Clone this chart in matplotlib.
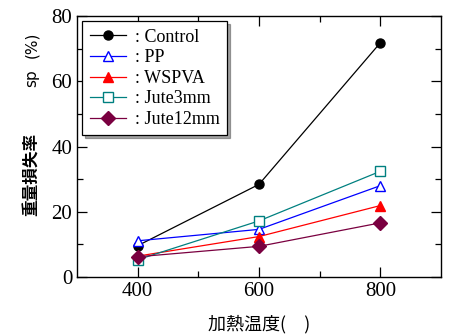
import matplotlib
matplotlib.use('Agg')
import matplotlib.pyplot as plt
from matplotlib.ticker import MultipleLocator

# heating temperature and mass loss rate (%)
temps = [400, 600, 800]
control = [9.6, 28.4, 71.8]
pp = [11.1, 14.6, 28.0]
wspva = [6.4, 12.4, 21.9]
jute3 = [5.3, 17.2, 32.4]
jute12 = [6.2, 9.4, 16.6]

plt.rcParams['font.family'] = ['Liberation Serif', 'Noto Sans CJK JP']
plt.rcParams['xtick.direction'] = 'in'
plt.rcParams['ytick.direction'] = 'in'

fig = plt.figure(figsize=(4.54, 3.35), dpi=100)
ax = fig.add_axes([0.1696, 0.1731, 0.8018, 0.7791])

ax.plot(temps, control, '-o', color='black', lw=0.9, ms=6.5, label=': Control')
ax.plot(temps, pp, '-^', color='blue', lw=0.9, ms=7.5, mfc='white', mew=1.0, label=': PP')
ax.plot(temps, wspva, '-^', color='red', lw=0.9, ms=7.5, label=': WSPVA')
ax.plot(temps, jute3, '-s', color='#008080', lw=0.9, ms=6.5, mfc='white', mew=1.0, label=': Jute3mm')
ax.plot(temps, jute12, '-D', color='#7a0040', lw=0.9, ms=7.5, label=': Jute12mm')

ax.set_xlim(300, 900)
ax.set_ylim(0, 80)
ax.xaxis.set_major_locator(MultipleLocator(200))
ax.xaxis.set_minor_locator(MultipleLocator(100))
ax.yaxis.set_major_locator(MultipleLocator(20))
ax.yaxis.set_minor_locator(MultipleLocator(10))
ax.tick_params(which='both', top=True, right=True, labelsize=15)
ax.tick_params(which='major', length=7, width=0.9)
ax.tick_params(which='minor', length=4, width=0.9)
ax.set_xticks([400, 600, 800])
ax.set_xticks([500, 700], minor=True)
for s in ax.spines.values():
    s.set_linewidth(1.0)

ax.set_xlabel('加熱温度(\u3000)', fontsize=13, family=['Noto Sans CJK JP'], labelpad=10)

# y label pieces (bold CJK, plain "sp" and "(%)")
fig.text(0.070, 0.478, '重量損失率', rotation=90, ha='center', va='center',
         fontsize=12, fontweight='bold', family=['Noto Sans CJK JP'])
fig.text(0.070, 0.767, 'sp', rotation=90, ha='center', va='center',
         fontsize=11, family=['DejaVu Sans'])
fig.text(0.070, 0.866, '(%)', rotation=90, ha='center', va='center',
         fontsize=11, family=['DejaVu Sans'])

leg = ax.legend(loc='upper left', fontsize=13, frameon=True, fancybox=False, shadow=True,
                handlelength=2.0, borderpad=0.4, labelspacing=0.2, handletextpad=0.5,
                borderaxespad=0.3)
leg.get_frame().set_edgecolor('black')
leg.get_frame().set_linewidth(0.9)

fig.savefig('out.png', dpi=100)
